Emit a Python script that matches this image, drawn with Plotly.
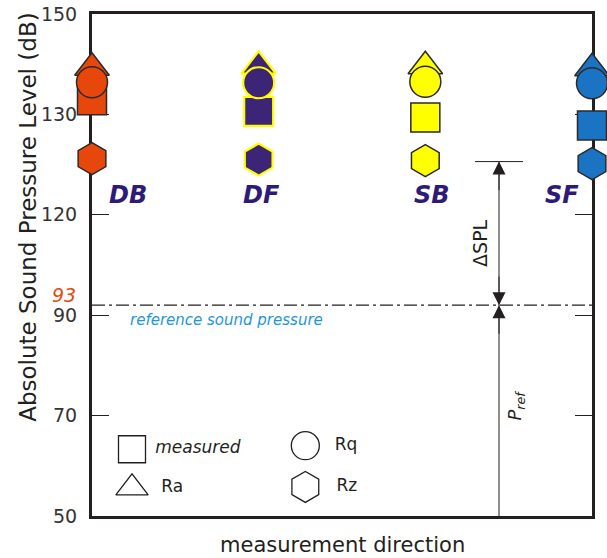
import numpy as np
import plotly.graph_objects as go

# ---------------- data ----------------
DIRECTIONS = ["DB", "DF", "SB", "SF"]
RA = [139.3, 139.6, 139.6, 139.2]          # triangles
RQ = [136.4, 136.3, 136.5, 136.2]          # circles
MEASURED = [132.8, 130.6, 129.7, 128.9]    # squares
RZ = [125.6, 125.5, 125.4, 125.1]          # hexagons

FILL = ["#E8470C", "#3C2477", "#FFFF00", "#1B73C3"]
EDGE = ["#2a2a2a", "#FFFF00", "#2a2a2a", "#2a2a2a"]
EDGE_W = [1.5, 2.2, 1.5, 1.5]

Y_TICK_DB = [50, 70, 90, 120, 130, 150]
Y_TICK_TEXT = ["50", "70", "90", "120", "130", "150"]
P_REF_DB = 93
SPL_TOP_DB = 125.3
LABEL_DB = 122

LEGEND_NAMES = ["measured", "Rq", "Ra", "Rz"]
LEGEND_SYMBOLS = ["square-open", "circle-open", "triangle-up-open", "hexagon-open"]

FONT = "DejaVu Sans"
DARK = "#231f20"

POS = list(range(len(Y_TICK_DB)))


def to_pos(v):
    return np.interp(v, Y_TICK_DB, POS)


x = list(range(len(DIRECTIONS)))

fig = go.Figure()

for vals, sym, size in [(RA, "triangle-up", 30), (MEASURED, "square", 29),
                        (RQ, "circle", 31), (RZ, "hexagon", 32)]:
    fig.add_trace(go.Scatter(
        x=x, y=to_pos(vals), mode="markers", cliponaxis=False, showlegend=False,
        hoverinfo="skip",
        marker=dict(symbol=sym, size=size, color=FILL,
                    line=dict(color=EDGE, width=EDGE_W))))

# legend keys (drawn inside the plot)
LEG_X = [0.24, 1.28, 0.24, 1.28]
LEG_Y = [to_pos(63.3), to_pos(64.0), to_pos(55.6), to_pos(55.8)]
LEG_SIZE = [27, 28, 28, 31]
for name, sym, lx, ly, sz in zip(LEGEND_NAMES, LEGEND_SYMBOLS, LEG_X, LEG_Y, LEG_SIZE):
    fig.add_trace(go.Scatter(
        x=[lx], y=[ly], mode="markers+text", cliponaxis=False, showlegend=False,
        hoverinfo="skip",
        text=[" <i>%s</i>" % name if name == "measured" else "  " + name],
        textposition="middle right",
        textfont=dict(family=FONT, size=17, color=DARK),
        marker=dict(symbol=sym, size=sz, color=DARK, line=dict(color=DARK, width=1.3))))

shapes = [
    # reference sound pressure line
    dict(type="line", xref="paper", yref="y", x0=0, x1=1,
         y0=to_pos(P_REF_DB), y1=to_pos(P_REF_DB),
         line=dict(color=DARK, width=1.2, dash="13px,4px,3px,4px")),
    # vertical dimension line
    dict(type="line", xref="paper", yref="y", x0=0.814, x1=0.814,
         y0=to_pos(Y_TICK_DB[0]), y1=to_pos(SPL_TOP_DB),
         line=dict(color=DARK, width=1)),
    dict(type="line", xref="paper", yref="y", x0=0.766, x1=0.862,
         y0=to_pos(SPL_TOP_DB), y1=to_pos(SPL_TOP_DB),
         line=dict(color=DARK, width=1)),
]

annotations = []
LABEL_SHIFT = [36, 3, 7, -30]
for i, (lab, sh) in enumerate(zip(DIRECTIONS, LABEL_SHIFT)):
    annotations.append(dict(x=i, y=to_pos(LABEL_DB), xref="x", yref="y", text="<b><i>%s</i></b>" % lab,
                            showarrow=False, xshift=sh,
                            font=dict(family=FONT, size=24, color="#2E1A78")))

for ydb, ay in [(SPL_TOP_DB, 30), (P_REF_DB, -30), (P_REF_DB, 30)]:
    annotations.append(dict(x=0.814, y=to_pos(ydb), xref="paper", yref="y", text="",
                            showarrow=True, ax=0, ay=ay, arrowhead=2, arrowsize=2.6,
                            arrowwidth=1, arrowcolor=DARK, standoff=0))

annotations += [
    dict(x=0, y=to_pos(P_REF_DB), xref="paper", yref="y", text="<i>93</i>", showarrow=False,
         xanchor="right", xshift=-14, yshift=10, font=dict(family=FONT, size=19, color="#E8470C")),
    dict(x=0.072, y=to_pos(P_REF_DB), xref="paper", yref="y", text="<i>reference sound pressure</i>",
         showarrow=False, xanchor="left", yshift=-15, font=dict(family=FONT, size=15, color="#1E96DC")),
    dict(x=0.802, y=to_pos(111.6), xref="paper", yref="y", text="ΔSPL", textangle=-90,
         showarrow=False, font=dict(family=FONT, size=19, color=DARK)),
    dict(x=0.876, y=to_pos(72), xref="paper", yref="y", text="<i>P<sub>ref</sub></i>", textangle=-90,
         showarrow=False, font=dict(family=FONT, size=18, color=DARK)),
    dict(x=-0.128, y=0.594, xref="paper", yref="paper", text="Absolute Sound Pressure Level (dB)",
         textangle=-90, showarrow=False, xanchor="center", yanchor="middle",
         font=dict(family=FONT, size=23, color=DARK)),
    dict(x=0.5, y=-0.058, xref="paper", yref="paper", text="measurement direction",
         showarrow=False, xanchor="center", yanchor="middle", font=dict(family=FONT, size=21, color=DARK)),
]

fig.update_layout(
    width=607, height=558,
    margin=dict(l=92, r=15, t=14, b=42, autoexpand=False),
    paper_bgcolor="white", plot_bgcolor="white",
    shapes=shapes, annotations=annotations,
    xaxis=dict(range=[0, len(DIRECTIONS) - 1], showgrid=False, zeroline=False, showticklabels=False,
               ticks="", showline=True, linecolor=DARK, linewidth=3, mirror=True, layer="below traces",
               fixedrange=True, automargin=False),
    yaxis=dict(range=[0, POS[-1]], tickvals=POS, ticktext=Y_TICK_TEXT, showgrid=False, zeroline=False,
               ticks="inside", ticklen=17, tickwidth=1, tickcolor=DARK, automargin=False,
               showline=True, linecolor=DARK, linewidth=3, mirror="ticks", layer="below traces",
               fixedrange=True,
               ticklabelstandoff=8, tickfont=dict(family=FONT, size=19, color="#333333")),
)

fig.write_html("out.html", config={"displayModeBar": False},
               post_script="document.body.style.margin='0';")
